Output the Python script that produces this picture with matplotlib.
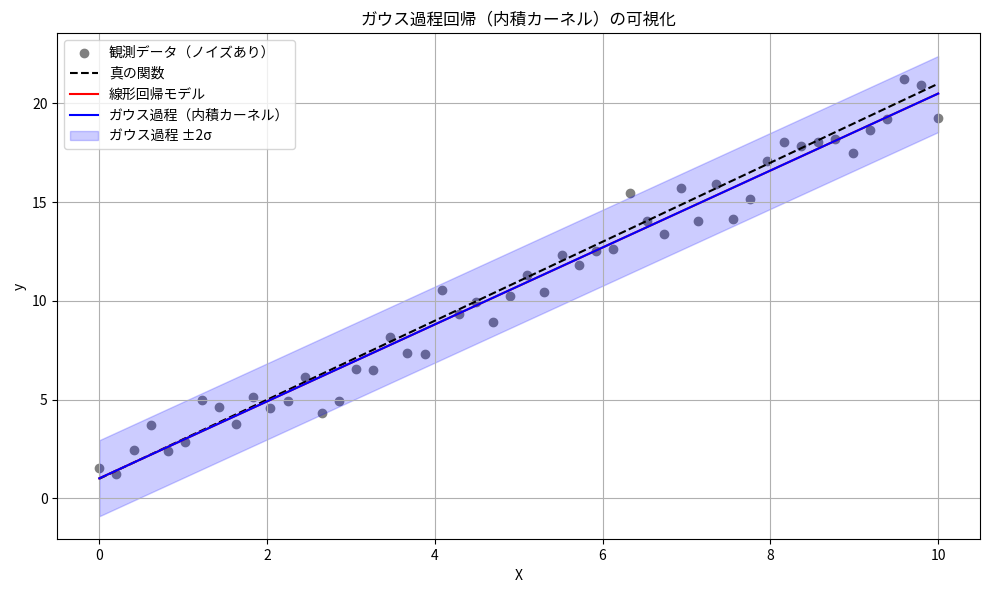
import numpy as np
import matplotlib.pyplot as plt

plt.rcParams['font.family'] = ['Noto Sans CJK JP', 'DejaVu Sans']

obs_x = np.linspace(0, 10, 50)
obs_y = [1.52, 1.22, 2.43, 3.70, 2.38, 2.84, 5.01, 4.61, 3.75, 5.16,
         4.56, 4.96, 6.13, 4.35, 4.96, 6.53, 6.48, 8.20, 7.39, 7.29,
         10.58, 9.32, 9.97, 8.91, 10.23, 11.29, 10.43, 12.35, 11.80, 12.51,
         12.61, 15.49, 14.03, 13.37, 15.70, 14.03, 15.90, 14.13, 15.14, 17.11,
         18.03, 17.87, 18.03, 18.18, 17.47, 18.68, 19.19, 21.22, 20.91, 19.24]

# true function
true_x = [0, 10]
true_y = [1.0, 21.0]

# linear regression model
lin_x = [0, 10]
lin_y = [1.02, 20.5]

# gaussian process (dot product kernel)
gp_x = [0, 10]
gp_mean = [1.02, 20.5]
gp_lower = [-0.9, 18.55]
gp_upper = [2.95, 22.4]

fig, ax = plt.subplots(figsize=(9.89, 5.9), dpi=100)
ax.scatter(obs_x, obs_y, color='gray', label='観測データ（ノイズあり）')
ax.plot(true_x, true_y, 'k--', label='真の関数')
ax.plot(lin_x, lin_y, color='red', label='線形回帰モデル')
ax.plot(gp_x, gp_mean, color='blue', label='ガウス過程（内積カーネル）')
ax.fill_between(gp_x, gp_lower, gp_upper, color='blue', alpha=0.2,
                label='ガウス過程 ±2σ')
ax.set_xlabel('X')
ax.set_ylabel('y')
ax.set_title('ガウス過程回帰（内積カーネル）の可視化')
ax.legend(loc='upper left')
ax.grid(True)
plt.subplots_adjust(left=0.058, right=0.991, top=0.944, bottom=0.086)
plt.savefig('out.png')
